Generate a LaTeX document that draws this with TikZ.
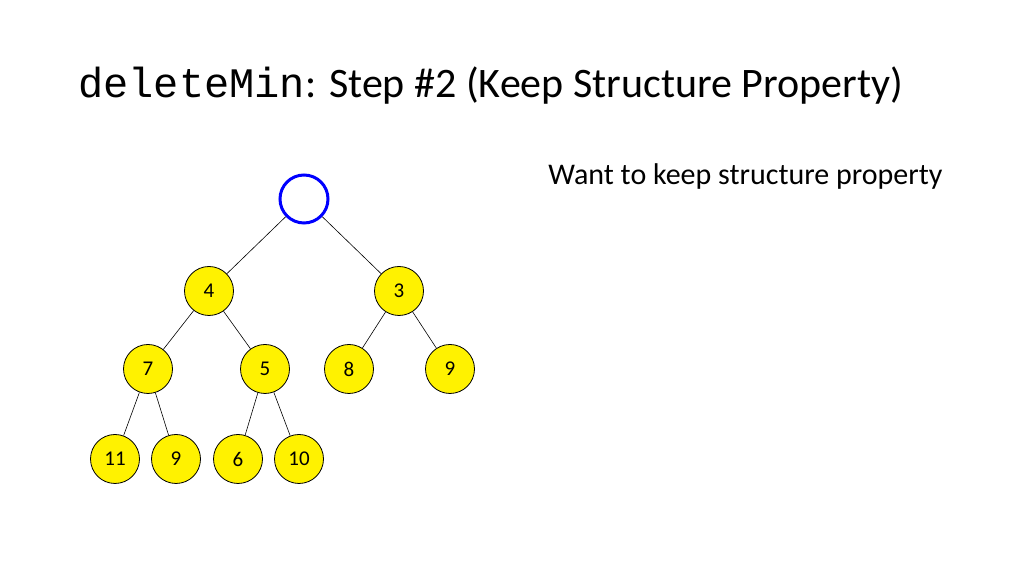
\documentclass[tikz,border=0pt]{standalone}
\usepackage{fontspec}
\setmainfont{Carlito}
\newfontfamily\monof{Liberation Mono}
\begin{document}
\begin{tikzpicture}[x=0.5pt,y=-0.5pt,
  hnode/.style={circle,draw=black,fill=yellow,minimum size=24.5pt,inner sep=0pt,font=\fontsize{10.5}{12}\selectfont},
  edge/.style={draw=black,line width=0.3pt}]
\useasboundingbox (0,0) rectangle (1024,576);
\node[anchor=west,inner sep=0pt,font=\fontsize{21}{25}\selectfont] (title) at (78,86) {{\monof deleteMin}: Step \#2 (Keep Structure Property)};
\node[anchor=west,inner sep=0pt,font=\fontsize{15}{18}\selectfont] (txt) at (548,177) {Want to keep structure property};
\node[circle,draw=blue,line width=1.5pt,minimum size=24pt,inner sep=0pt] (r) at (304,199) {};
\node[hnode] (a) at (209,291) {4};
\node[hnode] (b) at (399,291) {3};
\node[hnode] (c) at (148,369) {7};
\node[hnode] (d) at (265,369) {5};
\node[hnode] (e) at (349,369) {8};
\node[hnode] (f) at (450,369) {9};
\node[hnode] (g) at (115,459) {11};
\node[hnode] (h) at (176,459) {9};
\node[hnode] (i) at (238,459) {6};
\node[hnode] (j) at (299,459) {10};
\draw[edge] (r) -- (a); \draw[edge] (r) -- (b);
\draw[edge] (a) -- (c); \draw[edge] (a) -- (d);
\draw[edge] (b) -- (e); \draw[edge] (b) -- (f);
\draw[edge] (c) -- (g); \draw[edge] (c) -- (h);
\draw[edge] (d) -- (i); \draw[edge] (d) -- (j);
\end{tikzpicture}
\end{document}
